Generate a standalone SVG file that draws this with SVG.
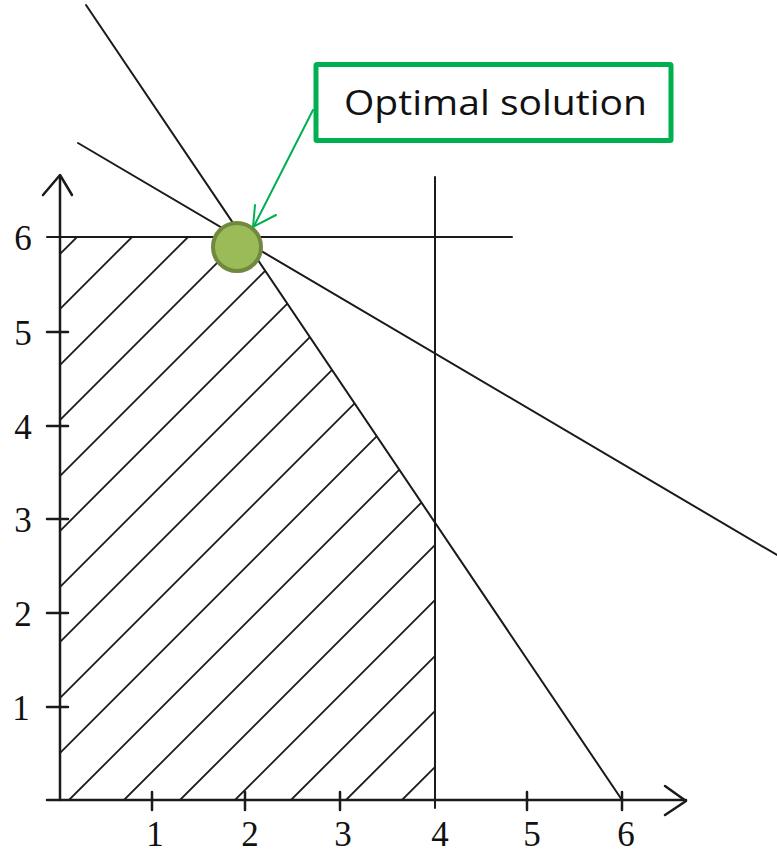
<svg xmlns="http://www.w3.org/2000/svg" width="777" height="853" viewBox="0 0 777 853">
  <style>
    .ln { stroke: #1a1a1a; stroke-width: 2; fill: none; stroke-linecap: round; }
    .ax { stroke: #1a1a1a; stroke-width: 2.5; fill: none; stroke-linecap: round; stroke-linejoin: round; }
    .hatch { stroke: #1a1a1a; stroke-width: 1.8; fill: none; }
    .lbl { font-family: "Liberation Serif", "Times New Roman", serif; font-size: 35px; fill: #111; text-anchor: middle; }
    .callout-text { font-family: "Open Sans", "Noto Sans", sans-serif; font-size: 34px; fill: #111; }
  </style>
  <defs>
    <clipPath id="feasible">
      <polygon points="60,800 60,237 242.4,237 435,522.6 435,800"/>
    </clipPath>
  </defs>
  <rect width="777" height="853" fill="#ffffff"/>

  <g id="hatching" clip-path="url(#feasible)">
    <line class="hatch" x1="-486" y1="800" x2="77" y2="237"/>
    <line class="hatch" x1="-431" y1="800" x2="132" y2="237"/>
    <line class="hatch" x1="-375" y1="800" x2="188" y2="237"/>
    <line class="hatch" x1="-320" y1="800" x2="243" y2="237"/>
    <line class="hatch" x1="-264" y1="800" x2="299" y2="237"/>
    <line class="hatch" x1="-209" y1="800" x2="354" y2="237"/>
    <line class="hatch" x1="-153" y1="800" x2="410" y2="237"/>
    <line class="hatch" x1="-98" y1="800" x2="465" y2="237"/>
    <line class="hatch" x1="-42" y1="800" x2="521" y2="237"/>
    <line class="hatch" x1="13" y1="800" x2="576" y2="237"/>
    <line class="hatch" x1="69" y1="800" x2="632" y2="237"/>
    <line class="hatch" x1="124" y1="800" x2="687" y2="237"/>
    <line class="hatch" x1="180" y1="800" x2="743" y2="237"/>
    <line class="hatch" x1="235" y1="800" x2="798" y2="237"/>
    <line class="hatch" x1="291" y1="800" x2="854" y2="237"/>
    <line class="hatch" x1="346" y1="800" x2="909" y2="237"/>
    <line class="hatch" x1="402" y1="800" x2="965" y2="237"/>
  </g>

  <g id="axes">
    <line class="ax" x1="60" y1="800" x2="60" y2="176"/>
    <polyline class="ax" points="43,195 60,175 72,195"/>
    <line class="ax" x1="47" y1="800" x2="686" y2="800"/>
    <polyline class="ax" points="665,786 686,801 665,815"/>
    <g id="y-ticks">
      <line class="ax" x1="47" y1="707" x2="68" y2="707"/>
      <line class="ax" x1="47" y1="613" x2="68" y2="613"/>
      <line class="ax" x1="47" y1="519" x2="68" y2="519"/>
      <line class="ax" x1="47" y1="426" x2="68" y2="426"/>
      <line class="ax" x1="47" y1="332" x2="68" y2="332"/>
    </g>
    <g id="x-ticks">
      <line class="ax" x1="152" y1="792" x2="152" y2="810"/>
      <line class="ax" x1="245" y1="792" x2="245" y2="810"/>
      <line class="ax" x1="340" y1="792" x2="340" y2="810"/>
      <line class="ax" x1="527" y1="792" x2="527" y2="810"/>
      <line class="ax" x1="622" y1="792" x2="622" y2="810"/>
    </g>
    <g id="y-labels">
      <text class="lbl" x="21" y="720">1</text>
      <text class="lbl" x="23" y="626">2</text>
      <text class="lbl" x="23" y="532">3</text>
      <text class="lbl" x="23" y="439">4</text>
      <text class="lbl" x="23" y="345">5</text>
      <text class="lbl" x="23" y="250">6</text>
    </g>
    <g id="x-labels">
      <text class="lbl" x="155" y="846">1</text>
      <text class="lbl" x="250" y="846">2</text>
      <text class="lbl" x="343" y="846">3</text>
      <text class="lbl" x="440" y="846">4</text>
      <text class="lbl" x="532" y="846">5</text>
      <text class="lbl" x="626" y="846">6</text>
    </g>
  </g>

  <g id="constraints">
    <line id="line-y6" class="ln" x1="47" y1="237" x2="512" y2="237"/>
    <line id="line-x4" class="ln" x1="435" y1="177" x2="435" y2="808"/>
    <line id="line-steep" class="ln" x1="86" y1="5" x2="622" y2="800"/>
    <line id="line-shallow" class="ln" x1="78" y1="143" x2="777" y2="555"/>
  </g>

  <g id="optimal-point">
    <circle cx="237" cy="247" r="24" fill="#9bbb59" stroke="#71893f" stroke-width="4"/>
  </g>

  <g id="callout">
    <rect x="316" y="64.5" width="355" height="76" fill="#ffffff" stroke="#00b050" stroke-width="5" rx="1"/>
    <text class="callout-text" x="344" y="115" textLength="303" lengthAdjust="spacingAndGlyphs">Optimal solution</text>
  </g>

  <g id="connectors">
    <line x1="313" y1="110" x2="254" y2="226" stroke="#00b050" stroke-width="2" stroke-linecap="round"/>
    <polyline points="255,205 253,227 276,215" fill="none" stroke="#00b050" stroke-width="2" stroke-linecap="round" stroke-linejoin="round"/>
  </g>
</svg>
